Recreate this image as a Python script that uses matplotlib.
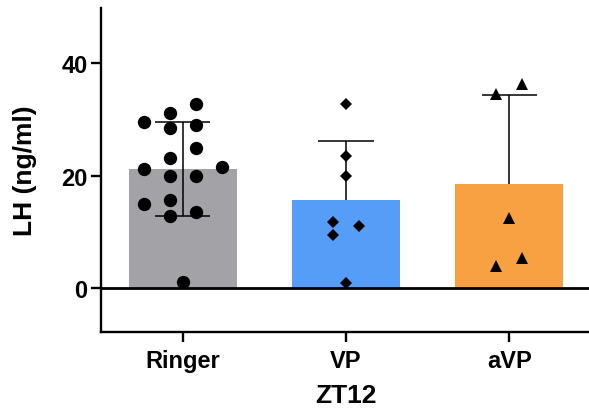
import numpy as np
import matplotlib
matplotlib.use("Agg")
import matplotlib.pyplot as plt

plt.rcParams['font.family'] = ['Liberation Sans', 'DejaVu Sans']
plt.rcParams['font.weight'] = 'bold'

# ---- data ----
categories = ["Ringer", "VP", "aVP"]
ringer = [32.8, 29.6, 28.4, 29.0, 31.2, 24.9, 23.1, 20.0, 20.0, 21.2, 21.5,
          15.6, 15.0, 13.5, 12.9, 1.1]
vp = [32.7, 23.4, 19.9, 11.1, 11.8, 9.5, 0.9]
avp = [36.3, 34.4, 12.4, 5.3, 4.0]
groups = [ringer, vp, avp]
y_ticks = [0, 20, 40]
x_label = "ZT12"
y_label = "LH (ng/ml)"

# ---- styles ----
bar_colors = ["#a3a2a7", "#569df7", "#f7a143"]
markers = ["o", "D", "^"]
marker_sizes = [9.6, 6.6, 9.0]
both_sides = [True, False, False]

W, H, DPI = 589, 414, 100
fig = plt.figure(figsize=(W / DPI, H / DPI), dpi=DPI)
ax_left, ax_bottom, ax_w, ax_h = 101, 81, 490, 323.7
ax = fig.add_axes([ax_left / W, ax_bottom / H, ax_w / W, ax_h / H])
xlim = (-0.5, 2.5)
ylim = (-7.76, 49.7)
ax.set_xlim(*xlim)
ax.set_ylim(*ylim)

px_per_x = ax_w / (xlim[1] - xlim[0])
px_per_y = ax_h / (ylim[1] - ylim[0])


def swarm(values, link=14.0, coll=12.0, step=13.0):
    """Deterministic Prism-like scatter: returns x offsets in data units.
    Isolated points sit on the centre line; points that form a vertical
    cluster are spread over slots at odd multiples of `step` pixels."""
    n = len(values)
    order = sorted(range(n), key=lambda i: values[i])
    # build clusters of points chained within `link` pixels
    clusters, cur = [], [order[0]]
    for a, b in zip(order[:-1], order[1:]):
        if (values[b] - values[a]) * px_per_y < link:
            cur.append(b)
        else:
            clusters.append(cur)
            cur = [b]
    clusters.append(cur)
    offs = [0.0] * n
    slots = []
    for k in range(0, 10):
        slots += [-(2 * k + 1), (2 * k + 1)]
    for cl in clusters:
        if len(cl) == 1:
            continue
        placed = []
        for i in cl:
            vy = values[i] * px_per_y
            for s in slots:
                if all(not (ps == s and abs(vy - py) < coll) for ps, py in placed):
                    break
            placed.append((s, vy))
            offs[i] = s * step / px_per_x
    return offs


x = np.arange(len(categories))
means = [np.mean(g) for g in groups]
sds = [np.std(g, ddof=1) for g in groups]

ax.bar(x, means, width=0.66, color=bar_colors, zorder=1)
ax.axhline(0, color="black", lw=2.0, zorder=2)

cap_half = 27.8 / px_per_x
for xi, m, s, b in zip(x, means, sds, both_sides):
    lo = m - s if b else m
    ax.vlines(xi, lo, m + s, color="black", lw=1.1, zorder=3)
    ax.hlines(m + s, xi - cap_half, xi + cap_half, color="black", lw=1.1, zorder=3)
    if b:
        ax.hlines(m - s, xi - cap_half, xi + cap_half, color="black", lw=1.1, zorder=3)

for xi, g, mk, ms in zip(x, groups, markers, marker_sizes):
    offs = swarm(g)
    ax.plot(xi + np.array(offs), g, linestyle="none", marker=mk, ms=ms,
            color="black", markeredgewidth=0, zorder=4, clip_on=False)

for side in ["top", "right"]:
    ax.spines[side].set_visible(False)
for side in ["left", "bottom"]:
    ax.spines[side].set_linewidth(1.7)

ax.set_yticks(y_ticks)
ax.set_xticks(x)
ax.set_xticklabels(categories)
ax.tick_params(axis="y", length=7, width=1.7, pad=2.7, labelsize=17)
ax.tick_params(axis="x", length=7, width=1.7, pad=5, labelsize=17)
for lbl in ax.get_xticklabels() + ax.get_yticklabels():
    lbl.set_fontweight("bold")

ax.set_ylabel(y_label, fontsize=19, fontweight="bold")
ax.yaxis.set_label_coords((36.7 - ax_left) / ax_w, 0.5)
ax.set_xlabel(x_label, fontsize=19, fontweight="bold")
ax.xaxis.set_label_coords(0.5 + (346.3 - 101 - 245) / ax_w, (333 - 384) / ax_h)

fig.savefig("out.png", dpi=DPI)
